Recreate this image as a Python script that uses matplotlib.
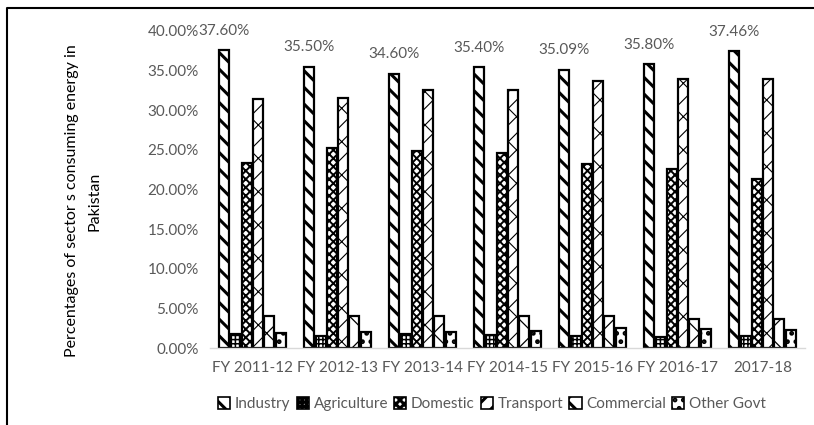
import matplotlib
matplotlib.use("Agg")
import matplotlib.pyplot as plt
import numpy as np
from matplotlib.lines import Line2D
from matplotlib.patches import Patch

plt.rcParams['font.family'] = ['Lato', 'DejaVu Sans']

years = ["FY 2011-12", "FY 2012-13", "FY 2013-14", "FY 2014-15",
         "FY 2015-16", "FY 2016-17", "2017-18"]
sectors = ["Industry", "Agriculture", "Domestic", "Transport", "Commercial", "Other Govt"]

industry = [37.60, 35.50, 34.60, 35.40, 35.09, 35.80, 37.46]
agriculture = [1.8, 1.55, 1.8, 1.7, 1.55, 1.4, 1.5]
domestic = [23.4, 25.2, 24.9, 24.6, 23.2, 22.6, 21.3]
transport = [31.4, 31.6, 32.5, 32.5, 33.7, 33.9, 34.0]
commercial = [4.0, 4.0, 4.1, 4.0, 4.0, 3.7, 3.7]
other_govt = [1.9, 2.0, 2.0, 2.1, 2.5, 2.35, 2.25]

series = [industry, agriculture, domestic, transport, commercial, other_govt]

# hatch pattern and hatch line width per sector (black on white)
styles = [
    ("\\\\", 2.2),
    ("++++", 1.1),
    ("xxxx", 1.4),
    ("/x", 0.8),
    ("x", 0.9),
    ("..", 2.2),
]

grey = "#595959"


def hatch_width(patch, lw):
    # hatch line width is global in matplotlib, so set it around each draw
    orig = patch.draw

    def draw(renderer):
        with plt.rc_context({'hatch.linewidth': lw}):
            orig(renderer)
    patch.draw = draw


fig = plt.figure(figsize=(8.14, 4.25), dpi=100)
ax = fig.add_axes([210 / 814, 1 - 348 / 425, 595 / 814, 317 / 425])

x = np.arange(len(years))
slot = 0.133
width = 0.118
for i, (vals, (hatch, hlw)) in enumerate(zip(series, styles)):
    pos = x + (i - 2.5) * slot
    plt.rcParams['hatch.linewidth'] = hlw
    bars = ax.bar(pos, vals, width, color="white", edgecolor="black", hatch=hatch, linewidth=1.6)
    for b in bars:
        hatch_width(b, hlw)

for xi, v in zip(x - 2.5 * slot, industry):
    ax.annotate(f"{v:.2f}%", (xi, v), xytext=(0, 14), textcoords="offset points",
                ha="center", va="center", fontsize=11, color=grey)

ax.set_xlim(-0.5, len(years) - 0.5)
ax.set_ylim(0, 40)
ax.set_yticks(np.arange(0, 41, 5))
ax.set_yticklabels([f"{t:.2f}%" for t in np.arange(0, 41, 5)])
ax.set_xticks(x)
ax.set_xticklabels(years)
ax.tick_params(length=0, labelsize=11, labelcolor=grey)
ax.tick_params(axis="x", pad=9)
ax.tick_params(axis="y", pad=8)
for s in ["top", "right", "left"]:
    ax.spines[s].set_visible(False)
ax.spines["bottom"].set_color("#d9d9d9")
ax.spines["bottom"].set_linewidth(1)

fig.text(83 / 814, 1 - 201 / 425, "Percentages of sector s consuming energy in\nPakistan",
         rotation=90, ha="center", va="center", fontsize=11.5, color="black",
         linespacing=1.75)

handles = [Patch(facecolor="white", edgecolor="black", hatch=h, linewidth=1.2) for h, _ in styles]
leg = fig.legend(handles, sectors, loc="center", bbox_to_anchor=(492 / 814, 1 - 404 / 425),
                 ncol=6, frameon=False, fontsize=11, labelcolor=grey,
                 handlelength=0.8, handleheight=0.8, handletextpad=0.3, columnspacing=0.4)
for p, (_, hlw) in zip(leg.get_patches(), styles):
    hatch_width(p, hlw)

# outer border along the top and left
fig.add_artist(Line2D([7 / 814, 7 / 814, 1], [0, 1 - 8 / 425, 1 - 8 / 425],
                      transform=fig.transFigure, color="black", linewidth=1.5))

fig.savefig("out.png", dpi=100)
